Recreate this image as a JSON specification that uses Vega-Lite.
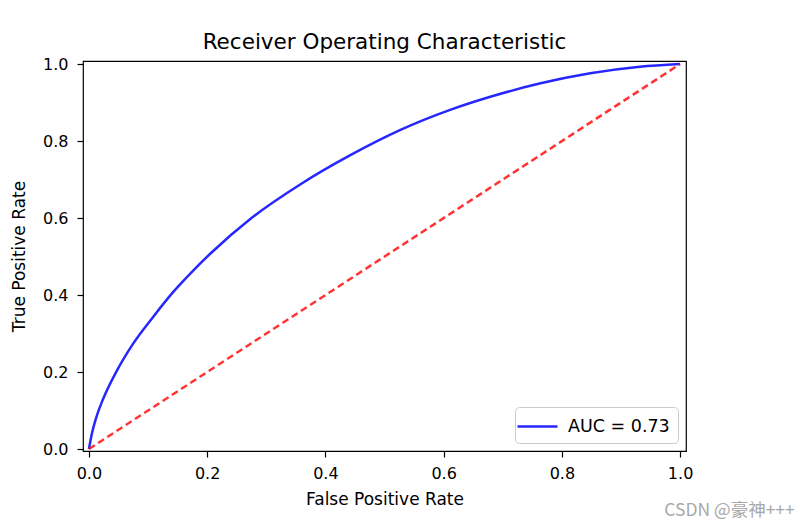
{
  "$schema": "https://vega.github.io/schema/vega-lite/v6.json",
  "width": 603,
  "height": 390,
  "autosize": {"type": "none"},
  "padding": {"left": 83, "top": 61, "right": 125, "bottom": 77},
  "background": "white",
  "title": {"text": "Receiver Operating Characteristic", "fontSize": 21.5, "font": "DejaVu Sans", "fontWeight": "normal", "color": "#000000", "offset": 3, "anchor": "middle"},
  "config": {
    "view": {"stroke": "#000000", "strokeWidth": 1.2},
    "font": "DejaVu Sans",
    "axis": {"grid": false, "domain": false, "tickColor": "#000000", "tickSize": 6, "tickWidth": 1.2, "labelFont": "DejaVu Sans", "labelFontSize": 16, "labelColor": "#000000", "titleFont": "DejaVu Sans", "titleFontSize": 17, "titleFontWeight": "normal", "titleColor": "#000000"},
    "legend": {"orient": "bottom-right", "offset": 8, "padding": 8, "strokeColor": "#cccccc", "fillColor": "#ffffff", "cornerRadius": 4, "symbolType": "M-2,0H2", "symbolSize": 400, "symbolOffset": 3, "symbolStrokeWidth": 2.5, "labelFont": "DejaVu Sans", "labelFontSize": 17.5, "labelColor": "#000000", "labelOffset": 19, "title": null}
  },
  "datasets": {
    "roc": [
      {"fpr": 0.0, "tpr": 0.0, "label": "AUC = 0.73"},
      {"fpr": 0.005, "tpr": 0.04, "label": "AUC = 0.73"},
      {"fpr": 0.012, "tpr": 0.08, "label": "AUC = 0.73"},
      {"fpr": 0.024, "tpr": 0.13, "label": "AUC = 0.73"},
      {"fpr": 0.046, "tpr": 0.2, "label": "AUC = 0.73"},
      {"fpr": 0.074, "tpr": 0.272, "label": "AUC = 0.73"},
      {"fpr": 0.108, "tpr": 0.342, "label": "AUC = 0.73"},
      {"fpr": 0.142, "tpr": 0.407, "label": "AUC = 0.73"},
      {"fpr": 0.176, "tpr": 0.463, "label": "AUC = 0.73"},
      {"fpr": 0.207, "tpr": 0.51, "label": "AUC = 0.73"},
      {"fpr": 0.274, "tpr": 0.599, "label": "AUC = 0.73"},
      {"fpr": 0.358, "tpr": 0.688, "label": "AUC = 0.73"},
      {"fpr": 0.443, "tpr": 0.764, "label": "AUC = 0.73"},
      {"fpr": 0.527, "tpr": 0.829, "label": "AUC = 0.73"},
      {"fpr": 0.611, "tpr": 0.881, "label": "AUC = 0.73"},
      {"fpr": 0.679, "tpr": 0.915, "label": "AUC = 0.73"},
      {"fpr": 0.764, "tpr": 0.95, "label": "AUC = 0.73"},
      {"fpr": 0.848, "tpr": 0.976, "label": "AUC = 0.73"},
      {"fpr": 0.932, "tpr": 0.993, "label": "AUC = 0.73"},
      {"fpr": 1.0, "tpr": 1.0, "label": "AUC = 0.73"}
    ],
    "diag": [
      {"fpr": 0.0, "tpr": 0.0},
      {"fpr": 1.0, "tpr": 1.0}
    ],
    "mark": [
      {"fpr": 1.194, "tpr": -0.162, "text": "CSDN @豪神+++"}
    ]
  },
  "layer": [
    {
      "data": {"name": "roc"},
      "mark": {"type": "line", "strokeWidth": 2.5, "opacity": 0.85, "interpolate": "monotone"},
      "encoding": {
        "x": {"field": "fpr", "type": "quantitative", "scale": {"domain": [-0.01, 1.01], "nice": false, "zero": false}, "axis": {"values": [0, 0.2, 0.4, 0.6, 0.8, 1.0], "format": ".1f", "title": "False Positive Rate", "labelPadding": 8, "titlePadding": 10}},
        "y": {"field": "tpr", "type": "quantitative", "scale": {"domain": [-0.005, 1.008], "nice": false, "zero": false}, "axis": {"values": [0, 0.2, 0.4, 0.6, 0.8, 1.0], "format": ".1f", "title": "True Positive Rate", "labelPadding": 9, "titlePadding": 14}},
        "color": {"field": "label", "type": "nominal", "scale": {"range": ["#0000ff"]}}
      }
    },
    {
      "data": {"name": "diag"},
      "mark": {"type": "line", "color": "#ff0000", "strokeWidth": 2.5, "opacity": 0.8, "strokeDash": [7, 4]},
      "encoding": {
        "x": {"field": "fpr", "type": "quantitative"},
        "y": {"field": "tpr", "type": "quantitative"}
      }
    },
    {
      "data": {"name": "mark"},
      "mark": {"type": "text", "align": "right", "baseline": "middle", "font": "Noto Sans CJK SC", "fontSize": 17.5, "color": "#a8a8a8", "clip": false},
      "encoding": {
        "x": {"field": "fpr", "type": "quantitative"},
        "y": {"field": "tpr", "type": "quantitative"},
        "text": {"field": "text"}
      }
    }
  ]
}
